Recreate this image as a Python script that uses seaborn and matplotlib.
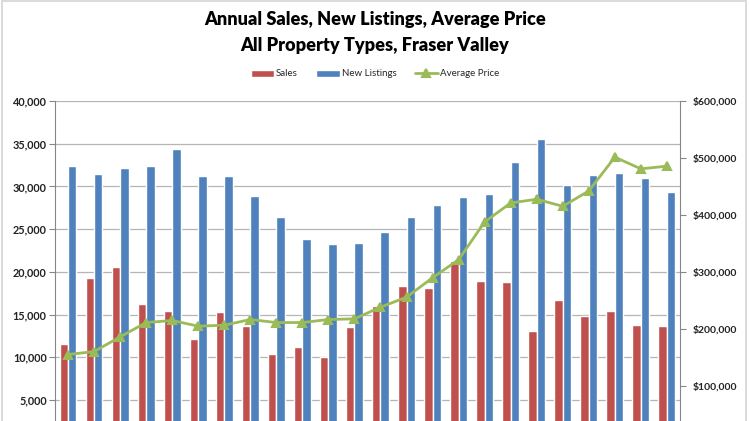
import pandas as pd
import numpy as np
import matplotlib.pyplot as plt
import seaborn as sns
from matplotlib.patches import Rectangle
from matplotlib.ticker import FuncFormatter

# valeurs
years = [1992, 1993, 1994, 1995, 1996, 1997, 1998, 1999, 2000, 2001, 2002, 2003,
         2004, 2005, 2006, 2007, 2008, 2009, 2010, 2011, 2012, 2013, 2014, 2015]
sales = [11600, 19220, 20550, 16250, 15470, 12110, 15350, 13670, 10430, 11210, 10080, 13550,
         16050, 18320, 18160, 21210, 18950, 18790, 13120, 16680, 14880, 15470, 13830, 13630]
listings = [32380, 31480, 32190, 32380, 34380, 31210, 31250, 28870, 26410, 23830, 23280, 23400,
            24610, 26370, 27810, 28710, 29060, 32890, 35590, 30200, 31370, 31520, 30940, 29300]
avg_price = [154700, 159900, 185700, 210900, 214500, 204500, 206200, 216200, 210900, 210900, 216200, 217400,
             237900, 255500, 289600, 321300, 387600, 421000, 427500, 415100, 442100, 501400, 480900, 485600]
left_ticks = [5000, 10000, 15000, 20000, 25000, 30000, 35000, 40000]
right_ticks = [100000, 200000, 300000, 400000, 500000, 600000]

df = pd.DataFrame({'Year': years + years,
                   'Value': sales + listings,
                   'Series': ['Sales'] * len(years) + ['New Listings'] * len(years)})

sns.set_style('white')
plt.rcParams['font.family'] = ['Lato', 'DejaVu Sans']

fig = plt.figure(figsize=(7.5, 4.21), dpi=100)
ax = fig.add_axes([0.0733, -0.0513, 0.8333, 0.8113])

# barres ventes / nouvelles inscriptions
sns.barplot(data=df, x='Year', y='Value', hue='Series', palette=['#C0504D', '#4F81BD'],
            width=0.65, gap=0, saturation=1, ax=ax)
ax.set_ylim(0, 40000)
ax.set_yticks(left_ticks)
ax.yaxis.set_major_formatter(FuncFormatter(lambda v, p: f'{v:,.0f}'))
ax.yaxis.grid(True, color='#b5b5b5', lw=0.9)
ax.set_axisbelow(True)
ax.set_xlabel('')
ax.set_ylabel('')
ax.tick_params(axis='y', length=4, color='#868686', labelsize=7.8, pad=2, labelcolor='#222222')
ax.tick_params(axis='x', length=0, labelbottom=False)
for s in ['top', 'right', 'bottom']:
    ax.spines[s].set_visible(False)
ax.spines['left'].set_color('#868686')
for t in ax.get_yticklabels():
    t.set_fontweight('bold')
h1, l1 = ax.get_legend_handles_labels()
ax.legend_.remove()

# prix moyen sur l'axe de droite
ax2 = ax.twinx()
sns.pointplot(x=years, y=avg_price, color='#9BBB59', markers='^', markersize=5.5,
              linewidth=2, label='Average Price', ax=ax2)
ax2.set_ylim(0, 600000)
ax2.set_yticks(right_ticks)
ax2.yaxis.set_major_formatter(FuncFormatter(lambda v, p: f'${v:,.0f}'))
ax2.tick_params(axis='y', length=4, color='#868686', labelsize=7.5, pad=5, labelcolor='#222222')
for s in ['top', 'left', 'bottom']:
    ax2.spines[s].set_visible(False)
ax2.spines['right'].set_color('#868686')
for t in ax2.get_yticklabels():
    t.set_fontweight('bold')
h2, l2 = ax2.get_legend_handles_labels()
if ax2.get_legend() is not None:
    ax2.get_legend().remove()

fig.legend(h1 + h2, l1 + l2, loc='center', bbox_to_anchor=(0.5, 1 - 74 / 421), ncol=3,
           frameon=False, fontsize=7, handlelength=2.4, handleheight=0.7, columnspacing=1.9,
           handletextpad=0.2)

fig.text(0.5, 1 - 19 / 421, 'Annual Sales, New Listings, Average Price', ha='center', va='center',
         fontsize=13.1, fontweight='heavy', color='black')
fig.text(0.5, 1 - 46 / 421, 'All Property Types, Fraser Valley', ha='center', va='center',
         fontsize=13.1, fontweight='heavy', color='black')

fig.patches.append(Rectangle((0.003, -0.01), 0.991, 1.007, transform=fig.transFigure,
                             fill=False, edgecolor='#d4d4d4', lw=1.2))

plt.savefig('out.png', dpi=100)
